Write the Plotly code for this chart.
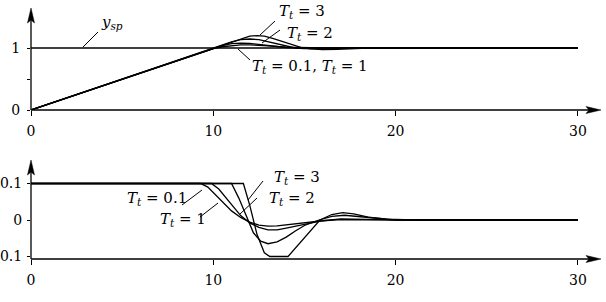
import plotly.graph_objects as go

W, H = 606, 302

# ---------------- data ----------------
t_sp = [0, 30]
y_sp = [1, 1]

t_y3 = [0, 11.6, 12.0, 12.4, 12.8, 13.3, 13.8, 14.3, 14.8, 15.3, 16.0, 16.8, 17.5, 18.5, 20, 30]
y_y3 = [0, 1.16, 1.19, 1.2, 1.19, 1.15, 1.1, 1.05, 1.01, 0.985, 0.975, 0.978, 0.988, 0.997, 1.0, 1.0]

t_y2 = [0, 11.0, 11.5, 12.0, 12.5, 13.0, 13.5, 14.0, 14.5, 15.0, 16.0, 17.0, 18.0, 30]
y_y2 = [0, 1.1, 1.135, 1.145, 1.135, 1.1, 1.06, 1.025, 1.0, 0.99, 0.988, 0.995, 1.0, 1.0]

t_y1 = [0, 9.9, 10.5, 11.0, 11.5, 12.0, 12.5, 13.0, 13.5, 14.0, 15.0, 16.0, 18.0, 30]
y_y1 = [0, 0.99, 1.04, 1.07, 1.08, 1.075, 1.06, 1.04, 1.02, 1.008, 0.998, 0.997, 1.0, 1.0]

t_y01 = [0, 9.3, 10.0, 10.5, 11.0, 11.5, 12.0, 12.5, 13.0, 14.0, 15.0, 16.0, 18.0, 30]
y_y01 = [0, 0.93, 0.99, 1.02, 1.04, 1.05, 1.05, 1.045, 1.035, 1.015, 1.005, 1.0, 1.0, 1.0]

t_u3 = [0, 11.65, 12.0, 12.4, 12.8, 13.1, 14.1, 15.0, 15.85, 16.5, 17.1, 17.7, 18.5, 19.5, 21, 30]
u_u3 = [0.1, 0.1, 0.04, -0.04, -0.09, -0.1, -0.1, -0.05, 0.0, 0.015, 0.02, 0.017, 0.008, 0.002, 0.0, 0.0]

t_u2 = [0, 11.0, 11.4, 11.8, 12.2, 12.6, 13.0, 13.5, 14.0, 14.5, 15.0, 15.8, 16.5, 17.2, 18.0, 19.0, 20.0, 30]
u_u2 = [0.1, 0.1, 0.06, 0.01, -0.035, -0.058, -0.065, -0.06, -0.047, -0.03, -0.015, 0.0, 0.01, 0.013, 0.009, 0.003, 0.0, 0.0]

t_u1 = [0, 9.9, 10.3, 10.7, 11.1, 11.5, 12.0, 12.5, 13.0, 13.5, 14.0, 15.0, 16.0, 17.0, 18.0, 19.0, 20.0, 30]
u_u1 = [0.1, 0.1, 0.085, 0.06, 0.035, 0.012, -0.008, -0.02, -0.027, -0.027, -0.022, -0.011, -0.002, 0.003, 0.003, 0.001, 0.0, 0.0]

t_u01 = [0, 9.3, 9.7, 10.1, 10.5, 11.0, 11.5, 12.0, 12.5, 13.0, 13.5, 14.0, 15.0, 16.0, 17.0, 18.0, 20.0, 30]
u_u01 = [0.1, 0.1, 0.09, 0.07, 0.048, 0.025, 0.007, -0.006, -0.014, -0.017, -0.016, -0.013, -0.007, -0.002, 0.001, 0.001, 0.0, 0.0]

x_ticks = [0, 10, 20, 30]
top_y_ticks = [0, 0.5, 1]
top_y_labels = ["0", " ", "1"]
bot_y_ticks = [-0.1, 0, 0.1]
bot_y_labels = ["\u22120.1", "0", "0.1"]

# ---------------- layout helpers ----------------
def px(x):
    return x / W

def py(y):
    return 1 - y / H

X_LEFT = 31      # pixel of t = 0
PX_PER_T = 18.23
x_max = (W - X_LEFT) / PX_PER_T

top_dom = [py(110), py(5)]
top_rng = [0, (110 - 5) / 62]
bot_dom = [py(259), py(158)]
bot_rng = [(220 - 259) / 365, (220 - 158) / 365]

FONT = "DejaVu Serif"
LW = 1.3

fig = go.Figure()

def add(t, v, xa, ya):
    fig.add_trace(go.Scatter(x=t, y=v, mode="lines", xaxis=xa, yaxis=ya,
                             line=dict(color="black", width=LW),
                             cliponaxis=False, hoverinfo="skip", showlegend=False))

add(t_sp, y_sp, "x", "y")
add(t_y01, y_y01, "x", "y")
add(t_y1, y_y1, "x", "y")
add(t_y2, y_y2, "x", "y")
add(t_y3, y_y3, "x", "y")
add(t_u01, u_u01, "x2", "y2")
add(t_u1, u_u1, "x2", "y2")
add(t_u2, u_u2, "x2", "y2")
add(t_u3, u_u3, "x2", "y2")

axis_common = dict(showgrid=False, zeroline=False, showline=False, automargin=False,
                   ticks="outside", tickcolor="black", tickwidth=1,
                   tickfont=dict(family=FONT, size=14, color="black"))

fig.update_layout(
    template="none",
    width=W, height=H, margin=dict(l=0, r=0, t=0, b=0, pad=0),
    paper_bgcolor="white", plot_bgcolor="white",
    font=dict(family=FONT, color="black"),
    xaxis=dict(domain=[px(X_LEFT), 1], range=[0, x_max], anchor="y",
               tickvals=x_ticks, ticklen=5, ticklabelstandoff=3, **axis_common),
    yaxis=dict(domain=top_dom, range=top_rng, anchor="x",
               tickvals=top_y_ticks, ticktext=top_y_labels, ticklen=3,
               ticklabelstandoff=4, **axis_common),
    xaxis2=dict(domain=[px(X_LEFT), 1], range=[0, x_max], anchor="y2",
                tickvals=x_ticks, ticklen=5, ticklabelstandoff=3, **axis_common),
    yaxis2=dict(domain=bot_dom, range=bot_rng, anchor="x2",
                tickvals=bot_y_ticks, ticktext=bot_y_labels, ticklen=3,
                ticklabelstandoff=2, **axis_common),
)

def arrow_axes(x0, y0, x_tip, y_tip):
    line = dict(color="black", width=LW)
    fig.add_shape(type="line", xref="paper", yref="paper",
                  x0=px(x0), y0=py(y0), x1=px(x_tip - 10), y1=py(y0), line=line)
    fig.add_shape(type="line", xref="paper", yref="paper",
                  x0=px(x0), y0=py(y0), x1=px(x0), y1=py(y_tip + 10), line=line)
    fig.add_shape(type="path", xref="paper", yref="paper",
                  path=f"M {px(x_tip)} {py(y0)} L {px(x_tip-15)} {py(y0-3.5)} "
                       f"L {px(x_tip-12)} {py(y0)} L {px(x_tip-15)} {py(y0+3.5)} Z",
                  fillcolor="black", line=dict(color="black", width=0.5))
    fig.add_shape(type="path", xref="paper", yref="paper",
                  path=f"M {px(x0)} {py(y_tip)} L {px(x0-3.5)} {py(y_tip+15)} "
                       f"L {px(x0)} {py(y_tip+12)} L {px(x0+3.5)} {py(y_tip+15)} Z",
                  fillcolor="black", line=dict(color="black", width=0.5))

arrow_axes(X_LEFT, 110, 601, 8)
arrow_axes(X_LEFT, 259, 601, 160)

def leader(x0, y0, x1, y1):
    fig.add_shape(type="line", xref="paper", yref="paper",
                  x0=px(x0), y0=py(y0), x1=px(x1), y1=py(y1),
                  line=dict(color="black", width=1))

def label(text, x, y):
    fig.add_annotation(text=text, xref="paper", yref="paper", x=px(x), y=py(y),
                       showarrow=False, xanchor="center", yanchor="middle",
                       font=dict(family=FONT, size=15, color="black"))

Tt = "<i>T</i><sub><i>t</i></sub>"

label("<i>y</i><sub><i>sp</i></sub>", 112, 22)
leader(83, 47, 98, 32)

label(f"{Tt} = 3", 302, 12)
leader(260, 35, 275, 21)
label(f"{Tt} = 2", 310, 33)
leader(262, 43, 280, 30)
label(f"{Tt} = 0.1, {Tt} = 1", 310, 66)
leader(238, 49, 250, 60)

label(f"{Tt} = 3", 297, 177)
leader(248, 200, 263, 181)
label(f"{Tt} = 2", 292, 198)
leader(240, 214, 257, 198)
label(f"{Tt} = 0.1", 157, 198)
leader(182, 205, 202, 190)
label(f"{Tt} = 1", 183, 220)
leader(200, 217, 218, 203)

fig.write_html("out.html")
